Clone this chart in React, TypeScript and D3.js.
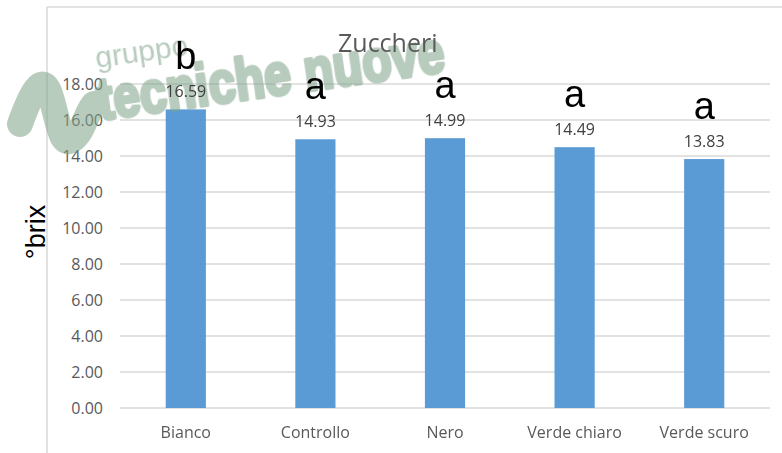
import React from 'react';
import * as d3 from 'd3';

const categories = ['Bianco', 'Controllo', 'Nero', 'Verde chiaro', 'Verde scuro'];
const values = [16.59, 14.93, 14.99, 14.49, 13.83];
const groups = ['b', 'a', 'a', 'a', 'a'];
const yTicks = [0, 2, 4, 6, 8, 10, 12, 14, 16, 18];

const W = 782;
const H = 453;
const margin = { top: 84, right: 12, bottom: 45, left: 121 };

export default function App() {
  const x = d3.scaleBand<string>()
    .domain(categories)
    .range([margin.left, W - margin.right - 1])
    .paddingInner(0.69)
    .paddingOuter(0.345);

  const y = d3.scaleLinear()
    .domain([0, 18])
    .range([H - margin.bottom, margin.top]);

  const tickFont = "'Open Sans', 'Noto Sans', sans-serif";

  return (
    <svg width={W} height={H} style={{ position: 'absolute', left: 0, top: 0, background: '#fff' }}
      fontFamily={tickFont}>
      {/* chart frame (cropped) */}
      <line x1={47} x2={47} y1={7} y2={H} stroke="#d9d9d9" strokeWidth={1.5} />
      <line x1={47} x2={W} y1={7} y2={7} stroke="#d9d9d9" strokeWidth={1.5} />

      {/* grid */}
      {yTicks.map(t => (
        <g key={t}>
          <line x1={120} x2={770} y1={y(t)} y2={y(t)} stroke="#d9d9d9" strokeWidth={1.5} />
          <text x={103} y={y(t)} dy="0.35em" textAnchor="end" fontSize={16} fill="#595959">
            {d3.format('.2f')(t)}
          </text>
        </g>
      ))}

      {/* bars */}
      {categories.map((c, i) => (
        <rect key={c} x={x(c)} y={y(values[i])} width={x.bandwidth()}
          height={y(0) - y(values[i])} fill="#5b9bd5" />
      ))}

      {/* watermark */}
      <g opacity={0.55} fill="#7ea289">
        <path d="M20,124 C30,96 42,70 50,94 S60,148 72,140 S86,112 94,104"
          fill="none" stroke="#7ea289" strokeWidth={26} strokeLinecap="round" strokeLinejoin="round" />
        <g transform="rotate(-8, 100, 120)">
          <text x={104} y={68} fontSize={30} fontFamily="'Liberation Sans', Arial, sans-serif">gruppo</text>
          <text x={100} y={120} fontSize={60} fontWeight="bold" textLength={350} lengthAdjust="spacingAndGlyphs"
            stroke="#7ea289" strokeWidth={4} strokeLinejoin="round"
            fontFamily="'Liberation Sans', Arial, sans-serif">tecniche nuove</text>
        </g>
      </g>

      {/* title */}
      <text x={338} y={52} fontSize={25} fill="#595959">Zuccheri</text>

      {/* value labels and group letters */}
      {categories.map((c, i) => {
        const cx = (x(c) as number) + x.bandwidth() / 2;
        return (
          <g key={c}>
            <text x={cx} y={y(values[i]) - 12} textAnchor="middle" fontSize={16} fill="#404040">
              {d3.format('.2f')(values[i])}
            </text>
            <text x={cx} y={y(values[i]) - 40} textAnchor="middle" fontSize={38} fill="#000"
              fontFamily="'Liberation Sans', Arial, sans-serif">
              {groups[i]}
            </text>
          </g>
        );
      })}

      {/* x labels */}
      {categories.map(c => (
        <text key={c} x={(x(c) as number) + x.bandwidth() / 2} y={438} textAnchor="middle"
          fontSize={16} fill="#595959">{c}</text>
      ))}

      {/* y title */}
      <text transform="translate(45,232) rotate(-90)" textAnchor="middle" fontSize={27} fill="#000"
        fontFamily="'Liberation Sans', Arial, sans-serif">°brix</text>
    </svg>
  );
}
